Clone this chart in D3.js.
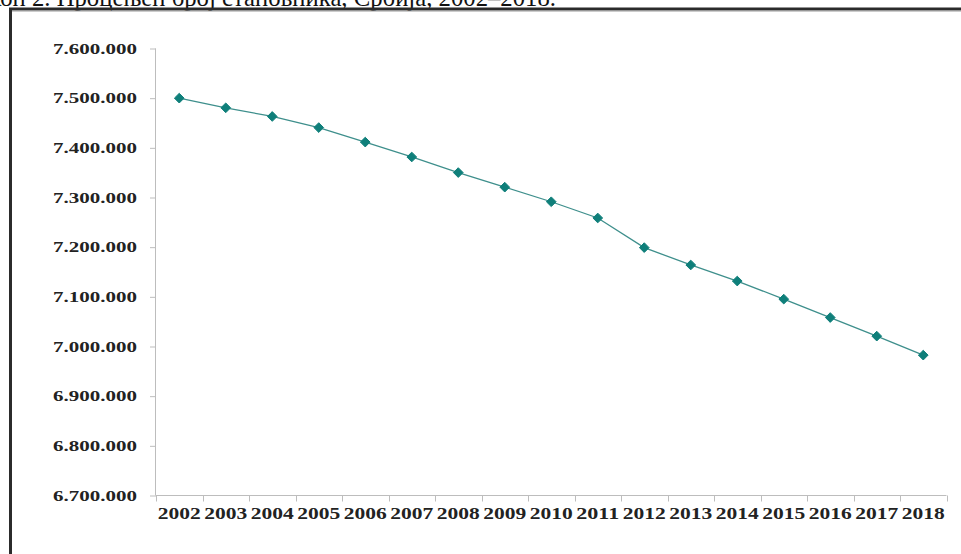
<!DOCTYPE html>
<html><head><meta charset="utf-8">
<script src="https://cdn.jsdelivr.net/npm/d3@7"></script>
<style>body{margin:0;background:#fff}svg{display:block}</style>
</head><body>
<script>
const titlePrefix = "График";
const titleText = "Графикон 2. Процењен број становника, Србија, 2002–2018.";
const years = ["2002","2003","2004","2005","2006","2007","2008","2009","2010","2011","2012","2013","2014","2015","2016","2017","2018"];
const population = [7500031,7480591,7463157,7440769,7411569,7381579,7350222,7320807,7291436,7258753,7199077,7164132,7131787,7095383,7058322,7020858,6982604];
const yTicks = [6700000,6800000,6900000,7000000,7100000,7200000,7300000,7400000,7500000,7600000];

const W = 961, H = 554;
const SERIF = "'Liberation Serif', 'Times New Roman', serif";
const svg = d3.select("body").append("svg").attr("width", W).attr("height", H);
svg.append("rect").attr("width", W).attr("height", H).attr("fill", "#fff");

// title (top cut off as in the source scan)
const title = svg.append("text").attr("x", 556).attr("y", 6).attr("text-anchor", "end")
  .style("font-family", SERIF).style("font-size", "24px")
  .attr("fill", "#111").text(titleText);
{
  const full = title.node().getComputedTextLength();
  const pre = title.node().getSubStringLength(0, titlePrefix.length);
  const fs = 24 * 556 / (full - pre);
  title.style("font-size", fs + "px");
}

// frame
svg.append("line").attr("x1", 9).attr("x2", W).attr("y1", 9).attr("y2", 9).attr("stroke", "#2b2b2b").attr("stroke-width", 3);
svg.append("line").attr("x1", 12).attr("x2", W).attr("y1", 11).attr("y2", 11).attr("stroke", "#999").attr("stroke-width", 1);
svg.append("line").attr("x1", 10.5).attr("x2", 10.5).attr("y1", 8).attr("y2", H).attr("stroke", "#2b2b2b").attr("stroke-width", 3);

const x = d3.scaleBand().domain(years).range([156, 946.5]);
const y = d3.scaleLinear().domain([6700000, 7600000]).range([495.5, 48.5]);

const fmt = v => d3.format(",")(v).replace(/,/g, ".");

// y axis
const ya = svg.append("g").attr("transform", "translate(156,0)")
  .call(d3.axisLeft(y).tickValues(yTicks).tickSize(6).tickPadding(13).tickFormat(fmt));
ya.select(".domain").attr("stroke", "#bdbdbd").attr("d", "M-0.5,48.5V495.5");
ya.selectAll(".tick line").attr("stroke", "#bdbdbd");
ya.selectAll(".tick text")
  .style("font-family", SERIF).style("font-weight", "bold").style("font-size", "15px")
  .attr("fill", "#222")
  .each(function() {
    const len = this.getComputedTextLength();
    const s = 84 / len;
    d3.select(this).attr("x", -19 / s).attr("transform", `scale(${s},1)`);
  });

// x axis
const xa = svg.append("g").attr("transform", "translate(0,495.5)")
  .call(d3.axisBottom(x).tickSize(0).tickPadding(0));
xa.select(".domain").attr("stroke", "#bdbdbd").attr("d", "M156,0H946.5");
xa.selectAll(".tick text").attr("y", 24).attr("dy", 0)
  .style("font-family", SERIF).style("font-weight", "bold").style("font-size", "16px")
  .attr("fill", "#222")
  .each(function() {
    const len = this.getComputedTextLength();
    d3.select(this).attr("transform", `scale(${43 / len},1)`);
  });
// boundary tick marks
const bounds = years.map(d => x(d)).concat([x(years[years.length-1]) + x.bandwidth()]);
xa.selectAll(".bt").data(bounds).enter().append("line").attr("class", "bt")
  .attr("x1", d => Math.round(d) + 0.5).attr("x2", d => Math.round(d) + 0.5)
  .attr("y1", 0).attr("y2", 6).attr("stroke", "#bdbdbd");

// line
const cx = d => x(d) + x.bandwidth() / 2;
svg.append("path").datum(years.map((d, i) => [cx(d), y(population[i])]))
  .attr("fill", "none").attr("stroke", "#3e8f8c").attr("stroke-width", 1.3)
  .attr("d", d3.line());

// markers
svg.selectAll(".pt").data(years).enter().append("path").attr("class", "pt")
  .attr("transform", (d, i) => `translate(${cx(d)},${y(population[i])})`)
  .attr("d", d3.symbol(d3.symbolDiamond2, 60)())
  .attr("fill", "#0f7f7a").attr("stroke", "#0f7f7a").attr("stroke-width", 1);
</script>
</body></html>
